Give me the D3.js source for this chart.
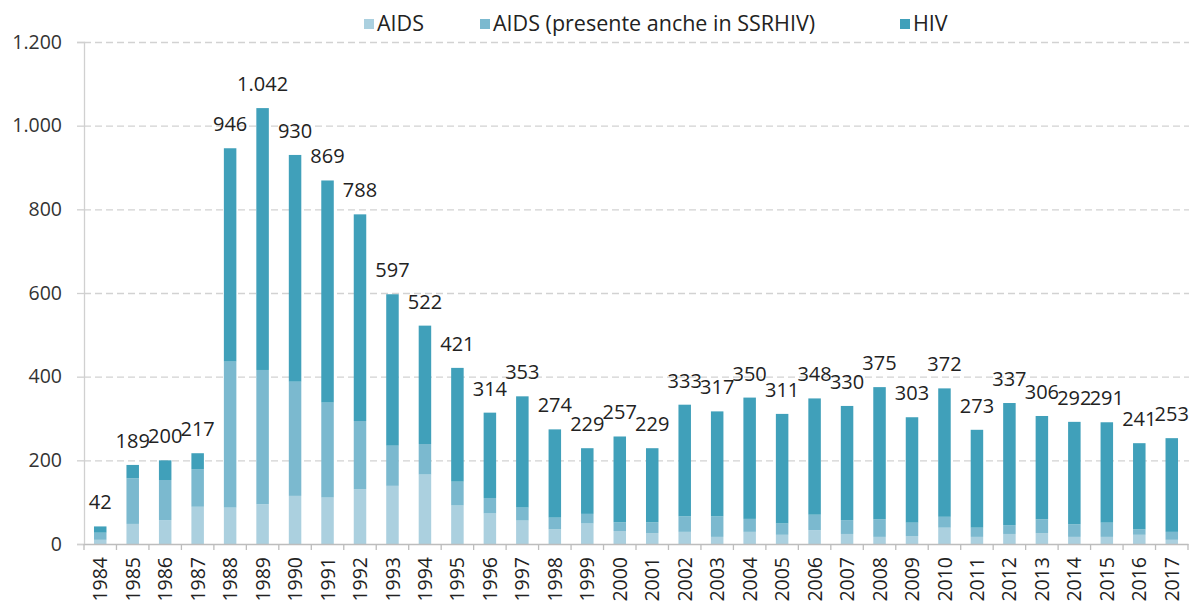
<!DOCTYPE html>
<html>
<head>
<meta charset="utf-8">
<script src="https://cdn.jsdelivr.net/npm/d3@7"></script>
<style>
    body { margin: 0; background: #fff; }
    svg { display: block; }
</style>
</head>
<body>
<svg id="chart"></svg>
<script>
// Anni
const years = ["1984","1985","1986","1987","1988","1989","1990","1991","1992","1993","1994","1995",
    "1996","1997","1998","1999","2000","2001","2002","2003","2004","2005","2006","2007","2008",
    "2009","2010","2011","2012","2013","2014","2015","2016","2017"];

// Serie
const aids = [10, 48, 57, 89, 87, 95, 115, 111, 131, 139, 166, 92,
    73, 56, 35, 49, 31, 26, 29, 17, 29, 22, 33, 24, 17,
    19, 39, 17, 24, 26, 17, 17, 22, 10];
const aidsSsr = [17, 109, 96, 90, 349, 321, 273, 227, 163, 96, 73, 57,
    37, 31, 28, 23, 21, 26, 37, 49, 31, 27, 37, 33, 42,
    32, 26, 22, 21, 33, 30, 34, 13, 19];
const totals = [42, 189, 200, 217, 946, 1042, 930, 869, 788, 597, 522, 421,
    314, 353, 274, 229, 257, 229, 333, 317, 350, 311, 348, 330, 375,
    303, 372, 273, 337, 306, 292, 291, 241, 253];
const hiv = totals.map((t, i) => t - aids[i] - aidsSsr[i]);

const seriesNames = ["AIDS", "AIDS (presente anche in SSRHIV)", "HIV"];
const yTicks = [0, 200, 400, 600, 800, 1000, 1200];

const colors = ["#abd0df", "#7bb9cf", "#40a0ba"];
const font = "'Open Sans', sans-serif";

const width = 1189, height = 603;
const margin = { left: 84, right: 1, top: 42, bottom: 59 };

const svg = d3.select("#chart")
    .attr("width", width)
    .attr("height", height)
    .style("font-family", font);

const rows = years.map((y, i) => ({ year: y, s0: aids[i], s1: aidsSsr[i], s2: hiv[i], total: totals[i] }));
const stacked = d3.stack().keys(["s0", "s1", "s2"])(rows);

const x = d3.scaleBand()
    .domain(years)
    .range([margin.left, width - margin.right])
    .paddingInner(0.615)
    .paddingOuter(0.3075);

const y = d3.scaleLinear()
    .domain([0, 1200])
    .range([height - margin.bottom, margin.top]);

const fmt = d3.formatLocale({ decimal: ",", thousands: ".", grouping: [3], currency: ["", "€"] }).format(",d");

// griglia
svg.append("g")
    .selectAll("line")
    .data(yTicks.filter(d => d > 0))
    .join("line")
    .attr("x1", margin.left)
    .attr("x2", width)
    .attr("y1", d => y(d) + 0.5)
    .attr("y2", d => y(d) + 0.5)
    .attr("stroke", "#d2d2d2")
    .attr("stroke-width", 1.3)
    .attr("stroke-dasharray", "7,4");

// asse Y
const yAxis = svg.append("g")
    .attr("transform", `translate(${margin.left},0)`)
    .call(d3.axisLeft(y).tickValues(yTicks).tickFormat(fmt).tickSize(7).tickPadding(15));
yAxis.select(".domain").attr("stroke", "#d0d0d0").attr("stroke-width", 1.3);
yAxis.selectAll(".tick line").attr("stroke", "#d0d0d0").attr("stroke-width", 1.3);
yAxis.selectAll(".tick text")
    .attr("fill", "#333")
    .style("font-size", "19.5px")
    .style("font-family", font);

// barre
svg.append("g")
    .selectAll("g")
    .data(stacked)
    .join("g")
    .attr("fill", (d, i) => colors[i])
    .selectAll("rect")
    .data(d => d)
    .join("rect")
    .attr("x", d => x(d.data.year))
    .attr("width", x.bandwidth())
    .attr("y", d => y(d[1]))
    .attr("height", d => y(d[0]) - y(d[1]));

// asse X
const xAxis = svg.append("g")
    .attr("transform", `translate(0,${y(0)})`)
    .call(d3.axisBottom(x).tickSize(0).tickPadding(0));
xAxis.select(".domain").attr("stroke", "#bdbdbd").attr("stroke-width", 1.5);
xAxis.selectAll(".tick text")
    .attr("transform", "rotate(-90)")
    .attr("text-anchor", "end")
    .attr("x", -13)
    .attr("y", 0)
    .attr("dy", "0.36em")
    .attr("fill", "#222")
    .style("font-size", "19.5px")
    .style("font-family", font);

// tacche tra le categorie
const step = x.step();
svg.append("g")
    .selectAll("line")
    .data(years.concat(["end"]))
    .join("line")
    .attr("x1", (d, i) => margin.left + i * step)
    .attr("x2", (d, i) => margin.left + i * step)
    .attr("y1", y(0))
    .attr("y2", y(0) + 6)
    .attr("stroke", "#bdbdbd")
    .attr("stroke-width", 1.3);

// etichette totali
svg.append("g")
    .selectAll("text")
    .data(rows)
    .join("text")
    .attr("x", d => x(d.year) + x.bandwidth() / 2)
    .attr("y", d => y(d.total) - 17)
    .attr("text-anchor", "middle")
    .attr("fill", "#222")
    .style("font-size", "20px")
    .text(d => fmt(d.total));

// legenda
const legendX = [364, 480, 900];
const legend = svg.append("g");
seriesNames.forEach((name, i) => {
    legend.append("rect")
        .attr("x", legendX[i])
        .attr("y", 19)
        .attr("width", 10)
        .attr("height", 10)
        .attr("fill", colors[i]);
    legend.append("text")
        .attr("x", legendX[i] + 13)
        .attr("y", 31)
        .attr("fill", "#222")
        .style("font-size", "21.5px")
        .text(name);
});
</script>
</body>
</html>
